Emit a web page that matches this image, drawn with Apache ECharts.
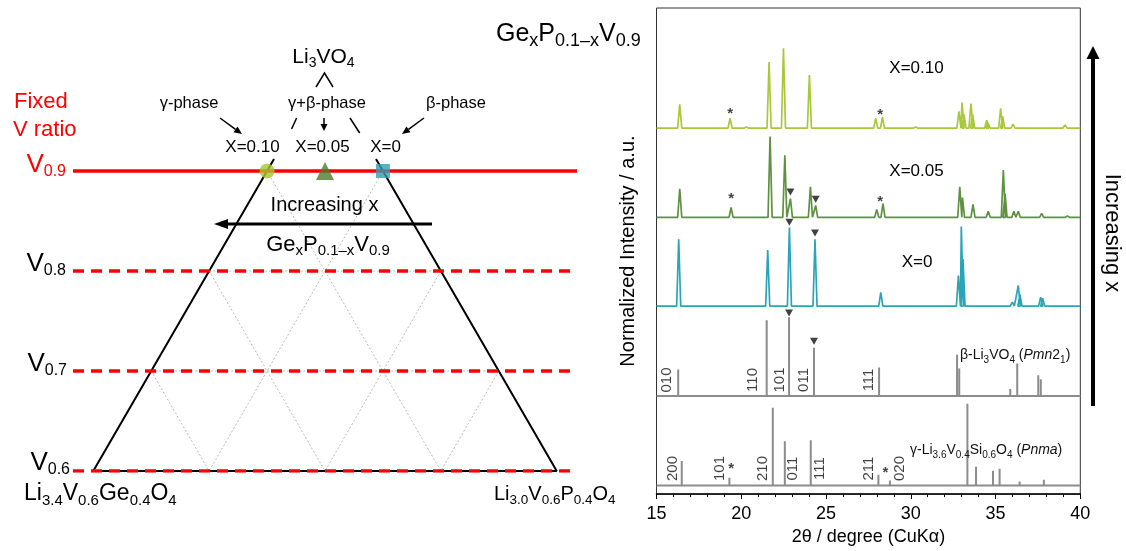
<!DOCTYPE html>
<html>
<head>
<meta charset="utf-8">
<script src="https://cdn.jsdelivr.net/npm/echarts@6/dist/echarts.min.js"></script>
<style>
  html, body { margin: 0; padding: 0; background: #fff; }
  #chart { width: 1126px; height: 551px; }
</style>
</head>
<body>
<div id="chart"></div>
<script>
// ---- XRD data, [2theta, intensity a.u.] ----
var peaksX010 = [[16.37, 24], [19.34, 10], [20.3, 1], [21.64, 67], [22.49, 81], [24.02, 54],
  [27.93, 10], [28.33, 11], [30.29, 1], [32.84, 17], [33.02, 26], [33.14, 14], [33.55, 25],
  [33.65, 14], [34.48, 8], [34.56, 5], [35.3, 20], [35.42, 12], [36.03, 4], [39.1, 3]];
var peaksX005 = [[16.37, 29], [19.4, 10], [21.7, 82], [22.57, 63], [22.9, 19], [24.08, 31],
  [24.39, 12], [27.99, 8], [28.36, 14], [32.89, 31], [33.05, 20], [33.67, 13], [34.57, 6],
  [35.46, 48], [35.56, 24], [36.08, 6], [36.34, 6], [37.72, 4], [39.24, 1.5]];
var peaksX000 = [[16.31, 68], [21.56, 57], [22.84, 80], [24.35, 68], [28.23, 14], [32.81, 31],
  [32.98, 81], [33.08, 48], [35.99, 4], [36.34, 21], [36.44, 12], [37.66, 9], [37.78, 8]];
var sticksBeta = [[16.28, 27], [21.5, 77], [22.82, 80], [24.29, 49], [28.13, 29], [32.73, 42],
  [32.86, 28], [35.87, 7], [36.28, 33], [37.52, 21], [37.67, 17]];
var sticksGamma = [[16.49, 25], [19.3, 8], [21.86, 79], [22.57, 45], [24.1, 46], [28.09, 11],
  [28.77, 5], [33.34, 83], [33.85, 19], [34.85, 15], [35.24, 17], [36.42, 4], [37.85, 6], [39.17, 1]];
var hklBeta = [['010', 15.6], ['110', 20.66], ['101', 22.25], ['011', 23.72], ['111', 27.5]];
var hklGamma = [['200', 15.96], ['101', 18.75], ['210', 21.3], ['011', 23.04], ['111', 24.61],
  ['211', 27.5], ['020', 29.37]];
// impurity (*) and beta (▼) marks: [2theta, height above pattern baseline]
var starsX010 = [[19.34, 17.7], [28.19, 16]];
var starsX005 = [[19.4, 21.7], [28.19, 18.7]];
var starsGamma = [[19.4, 20.3], [28.5, 16.3]];
var triX005 = [[22.9, 25.7], [24.39, 18.4]];
var triX000 = [[22.84, 85.3], [24.35, 74.3]];
var triBeta = [[22.82, 84.3], [24.29, 55.6]];
var xTicks = [15, 20, 25, 30, 35, 40];

// ---- composition diagram, x = P - Ge, y = V fraction ----
var vLevels = [0.9, 0.8, 0.7, 0.6];
var samples = [[-0.1, 0.9], [0, 0.9], [0.1, 0.9]];
var triangleEdge = [[-0.088, 0.912], [-0.4, 0.6], [0.4, 0.6], [0.088, 0.912]];
var latticeLines = [
  [[0.1, 0.9], [-0.2, 0.6]], [[0.2, 0.8], [0, 0.6]], [[0.3, 0.7], [0.2, 0.6]],
  [[-0.1, 0.9], [0.2, 0.6]], [[-0.2, 0.8], [0, 0.6]], [[-0.3, 0.7], [-0.2, 0.6]],
  [[-0.2, 0.8], [0.2, 0.8]], [[-0.3, 0.7], [0.3, 0.7]], [[-0.4, 0.6], [0.4, 0.6]]
];

var FONT = 'Liberation Sans, Arial, Helvetica, sans-serif';
var C10 = '#a8c83a', C05 = '#5e9140', C00 = '#2aa5b8', STICK = '#8c8c8c';
// baselines of the stacked patterns (in axis units)
var BASE = { x010: 372, x005: 281.3, x000: 191, beta: 99.7, gamma: 8.7 };
var HW = 0.12;

function profile(peaks, base) {
  var pts = [[15, base]];
  peaks.forEach(function (p) {
    pts.push([p[0] - HW, base], [p[0], base + p[1]], [p[0] + HW, base]);
  });
  pts.push([40, base]);
  return pts;
}
function sticks(list, base) {
  var pts = [[15, base]];
  list.forEach(function (p) { pts.push([p[0], base], [p[0], base + p[1]], [p[0], base]); });
  pts.push([40, base]);
  return pts;
}
function shift(list, base) {
  return list.map(function (p) { return [p[0], base + p[1]]; });
}

var series = [
  { type: 'line', data: profile(peaksX010, BASE.x010), symbol: 'none', lineStyle: { color: C10, width: 1.7 }, silent: true },
  { type: 'line', data: profile(peaksX005, BASE.x005), symbol: 'none', lineStyle: { color: C05, width: 1.7 }, silent: true },
  { type: 'line', data: profile(peaksX000, BASE.x000), symbol: 'none', lineStyle: { color: C00, width: 1.7 }, silent: true },
  { type: 'line', data: sticks(sticksBeta, BASE.beta), symbol: 'none', lineStyle: { color: STICK, width: 2 }, silent: true },
  { type: 'line', data: sticks(sticksGamma, BASE.gamma), symbol: 'none', lineStyle: { color: STICK, width: 2 }, silent: true },
  {
    type: 'scatter', symbol: 'triangle', symbolRotate: 180, symbolSize: [8, 7],
    itemStyle: { color: '#111' },
    data: shift(triX005, BASE.x005).concat(shift(triX000, BASE.x000), shift(triBeta, BASE.beta))
  },
  {
    type: 'scatter', symbolSize: 1, itemStyle: { color: 'rgba(0,0,0,0)' },
    label: { show: true, formatter: '*', position: 'inside', offset: [0, 3], fontSize: 15, fontWeight: 'bold', color: '#111', fontFamily: FONT },
    data: shift(starsX010, BASE.x010).concat(shift(starsX005, BASE.x005), shift(starsGamma, BASE.gamma))
  },
  {
    type: 'scatter', symbolSize: 1, itemStyle: { color: 'rgba(0,0,0,0)' },
    label: {
      show: true, position: 'inside', rotate: 90, fontSize: 15, color: '#111', fontFamily: FONT,
      formatter: function (p) { return p.data[2]; }
    },
    data: hklBeta.map(function (h) { return [h[1], 116, h[0]]; })
      .concat(hklGamma.map(function (h) { return [h[1], 26, h[0]]; }))
  }
];

// composition diagram series (grid 1)
latticeLines.forEach(function (seg) {
  series.push({
    type: 'line', xAxisIndex: 1, yAxisIndex: 1, data: seg, symbol: 'none', silent: true,
    lineStyle: { color: '#b8b8b8', width: 1, type: [2, 2] }
  });
});
series.push({
  type: 'line', xAxisIndex: 1, yAxisIndex: 1, data: triangleEdge, symbol: 'none', silent: true,
  lineStyle: { color: '#000', width: 2 }
});
vLevels.forEach(function (v, i) {
  series.push({
    type: 'line', xAxisIndex: 1, yAxisIndex: 1, data: [[-0.435, v], [0.435, v]], symbol: 'none', silent: true,
    lineStyle: { color: '#ff0000', width: 3.5, type: i === 0 ? 'solid' : [11, 7] }
  });
});
var sampleSymbols = [['circle', 15, '#a9c52f'], ['triangle', 18, '#4e7a2c'], ['rect', 14, '#2ea0b2']];
samples.forEach(function (s, i) {
  series.push({
    type: 'scatter', xAxisIndex: 1, yAxisIndex: 1, data: [s], silent: true, z: 5,
    symbol: sampleSymbols[i][0], symbolSize: sampleSymbols[i][1], itemStyle: { color: sampleSymbols[i][2] }
  });
});

// ---- annotation helpers ----
function rich(big, small, color, lh) {
  var base = { fontFamily: FONT, fill: color || '#000' };
  return {
    n: Object.assign({ fontSize: big, lineHeight: lh, verticalAlign: 'middle' }, base),
    i: Object.assign({ fontSize: big, lineHeight: lh, verticalAlign: 'middle', fontStyle: 'italic' }, base),
    s: Object.assign({ fontSize: small, lineHeight: small, verticalAlign: 'bottom' }, base)
  };
}
function rtext(x, y, text, r, align) {
  return { type: 'text', x: x, y: y, z: 10, style: { text: text, rich: r, align: align || 'left', verticalAlign: 'middle' } };
}
function ptext(x, y, text, size, align, color, rot) {
  return {
    type: 'text', x: x, y: y, z: 10, rotation: rot || 0,
    style: { text: text, fontSize: size, fontFamily: FONT, fill: color || '#000', align: align || 'center', verticalAlign: 'middle' }
  };
}
function arrow(x1, y1, x2, y2, w, hl, hw) {
  var dx = x2 - x1, dy = y2 - y1, L = Math.sqrt(dx * dx + dy * dy), ux = dx / L, uy = dy / L;
  var bx = x2 - ux * hl, by = y2 - uy * hl;
  return [
    { type: 'polyline', z: 10, shape: { points: [[x1, y1], [bx, by]] }, style: { stroke: '#000', lineWidth: w } },
    { type: 'polygon', z: 10, shape: { points: [[x2, y2], [bx - uy * hw / 2, by + ux * hw / 2], [bx + uy * hw / 2, by - ux * hw / 2]] }, style: { fill: '#000' } }
  ];
}
function seg(x1, y1, x2, y2, w) {
  return { type: 'polyline', z: 10, shape: { points: [[x1, y1], [x2, y2]] }, style: { stroke: '#000', lineWidth: w || 1.5 } };
}

var graphics = [
  rtext(496, 34.3, '{n|Ge}{s|x}{n|P}{s|0.1–x}{n|V}{s|0.9}', rich(25, 18, '#000', 31)),
  rtext(323.5, 57.5, '{n|Li}{s|3}{n|VO}{s|4}', rich(21, 14, '#000', 25), 'center'),
  { type: 'polyline', z: 10, shape: { points: [[316, 87], [324.5, 73], [333, 87]] }, style: { stroke: '#000', lineWidth: 1.5, fill: null } },
  ptext(14, 102, 'Fixed', 22, 'left', '#ff0000'),
  ptext(13, 130, 'V ratio', 22, 'left', '#ff0000'),
  ptext(189, 103, 'γ-phase', 16.5),
  ptext(327, 103, 'γ+β-phase', 16.5),
  ptext(456, 103, 'β-phase', 16.5),
  seg(296.6, 118, 291.6, 129), seg(350, 118, 359.7, 133),
  ptext(252.5, 147, 'X=0.10', 17),
  ptext(322.5, 147, 'X=0.05', 17),
  ptext(385.5, 147, 'X=0', 17),
  rtext(66, 164.4, '{n|V}{s|0.9}', rich(26, 16, '#ff0000', 30), 'right'),
  rtext(66, 263.4, '{n|V}{s|0.8}', rich(26, 16, '#000', 30), 'right'),
  rtext(67, 363.4, '{n|V}{s|0.7}', rich(26, 16, '#000', 30), 'right'),
  rtext(70, 462.4, '{n|V}{s|0.6}', rich(26, 16, '#000', 30), 'right'),
  ptext(324.5, 205, 'Increasing x', 20),
  rtext(328, 244.6, '{n|Ge}{s|x}{n|P}{s|0.1–x}{n|V}{s|0.9}', rich(22, 15, '#000', 28), 'center'),
  rtext(24, 493.4, '{n|Li}{s|3.4}{n|V}{s|0.6}{n|Ge}{s|0.4}{n|O}{s|4}', rich(23, 15, '#000', 29)),
  rtext(494, 494.5, '{n|Li}{s|3.0}{n|V}{s|0.6}{n|P}{s|0.4}{n|O}{s|4}', rich(20, 13.5, '#000', 26)),
  ptext(916.5, 68, 'X=0.10', 17),
  ptext(916.5, 171, 'X=0.05', 17),
  ptext(917, 262, 'X=0', 17),
  rtext(960, 355.5, '{n|β-Li}{s|3}{n|VO}{s|4}{n| (}{i|Pmn}{n|2}{s|1}{n|)}', rich(14, 10, '#111', 19)),
  rtext(910, 450.5, '{n|γ-Li}{s|3.6}{n|V}{s|0.4}{n|Si}{s|0.6}{n|O}{s|4}{n| (}{i|Pnma}{n|)}', rich(14, 10, '#111', 19)),
  ptext(1111.7, 233, 'Increasing x', 22, 'center', '#000', -Math.PI / 2)
].concat(
  arrow(220, 118, 242, 134, 1.5, 8, 7),
  arrow(424, 118, 402, 134, 1.5, 8, 7),
  arrow(324, 118, 324, 131, 1.5, 7, 7),
  arrow(432, 224, 214, 224, 3, 14, 10),
  arrow(1093, 406, 1093, 46, 4, 13, 13)
);

var chart = echarts.init(document.getElementById('chart'), null, { renderer: 'canvas' });
chart.setOption({
  animation: false,
  backgroundColor: '#fff',
  grid: [
    { left: 656.5, top: 8, width: 423.8, height: 494, show: true, borderColor: '#333', borderWidth: 1 },
    { left: 73, top: 151, width: 504, height: 320 }
  ],
  xAxis: [
    {
      type: 'value', gridIndex: 0, min: xTicks[0], max: xTicks[xTicks.length - 1], interval: 5,
      axisLine: { lineStyle: { color: '#000', width: 1.5 } },
      axisTick: { show: true, length: 5, lineStyle: { color: '#000' } },
      minorTick: { show: true, splitNumber: 5, length: 3, lineStyle: { color: '#000' } },
      splitLine: { show: false },
      axisLabel: { fontSize: 18, color: '#000', fontFamily: FONT, margin: 11 },
      name: '2θ / degree (CuKα)', nameLocation: 'middle', nameGap: 31,
      nameTextStyle: { fontSize: 18, color: '#000', fontFamily: FONT }
    },
    { type: 'value', gridIndex: 1, min: -0.435, max: 0.435, show: false }
  ],
  yAxis: [
    {
      type: 'value', gridIndex: 0, min: 0, max: 494,
      axisLine: { show: false }, axisTick: { show: false }, axisLabel: { show: false }, splitLine: { show: false },
      name: 'Normalized Intensity / a.u.', nameLocation: 'middle', nameGap: 18,
      nameTextStyle: { fontSize: 20, color: '#000', fontFamily: FONT }
    },
    { type: 'value', gridIndex: 1, min: 0.6, max: 0.92, show: false }
  ],
  series: series,
  graphic: graphics
});
</script>
</body>
</html>
